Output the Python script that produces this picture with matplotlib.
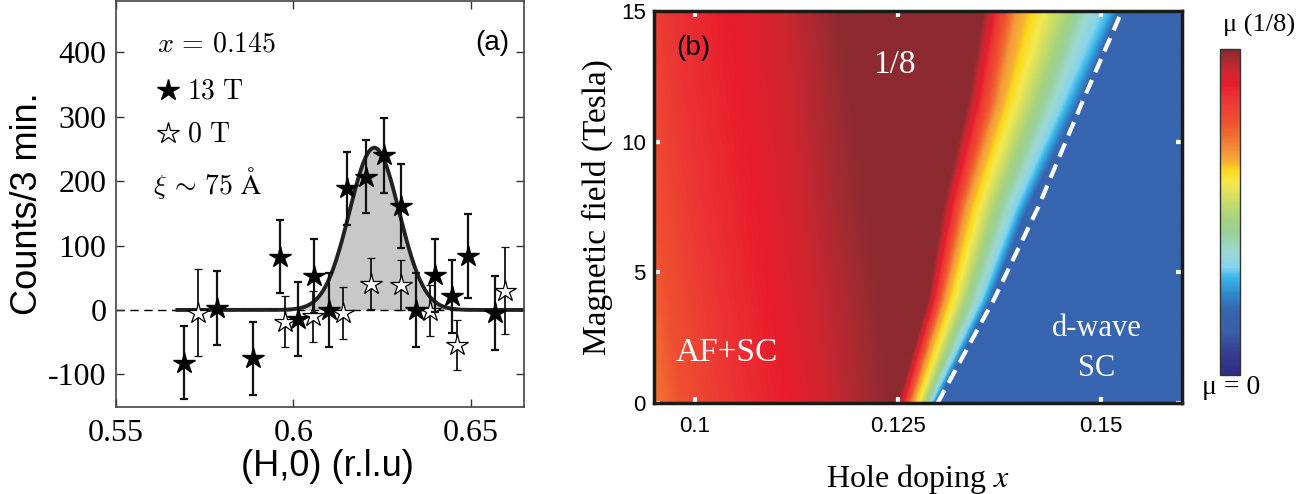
import numpy as np
import matplotlib
matplotlib.use("Agg")
import matplotlib.pyplot as plt
from matplotlib.colors import LinearSegmentedColormap

plt.rcParams['mathtext.fontset'] = 'cm'
plt.rcParams['axes.unicode_minus'] = False

SERIF = 'Liberation Serif'
SANS = 'Liberation Sans'

# ---- panel (a): neutron counts vs (H,0)
h_13T = [0.5693, 0.5786, 0.5885, 0.5963, 0.6013, 0.6057, 0.6100, 0.6152,
         0.6205, 0.6255, 0.6302, 0.6345, 0.6400, 0.6448, 0.6493, 0.6568]
counts_13T = [-82, 3, -75, 83, -14, 53, 0, 189, 207, 240, 162, 0, 54, 21, 84, -5]
err_13T = [57, 57, 57, 56, 57, 57, 57, 57, 57, 58, 65, 57, 57, 57, 65, 57]

h_0T = [0.5731, 0.5975, 0.6055, 0.6139, 0.6220, 0.6302, 0.6384, 0.6462, 0.6597]
counts_0T = [-4, -18, -10, -5, 41, 39, -1, -54, 30]
err_0T = [67, 39, 40, 40, 39, 39, 40, 39, 68]

# gaussian fit parameters (amplitude, centre, sigma) and range of fit line
fit_amp = 252
fit_center = 0.6228
fit_sigma = 0.0070
fit_range = (0.5673, 0.665)

# ---- panel (b): phase diagram, mu(x, H) read as iso-level positions
field_rows = [0, 4, 7.5, 11.5, 15]
mu_levels = [0.72, 0.78, 0.85, 0.89, 0.93, 0.97, 1.0,
             1.0, 0.86, 0.68, 0.59, 0.48, 0.38, 0.30, 0.20]
x_levels = [
    [0.0950, 0.0985, 0.1047, 0.1118, 0.1163, 0.1208, 0.1241,
     0.1250, 0.1258, 0.1268, 0.1276, 0.1284, 0.1289, 0.1293, 0.1298],
    [0.0935, 0.0965, 0.1025, 0.1095, 0.1145, 0.1195, 0.1228,
     0.1287, 0.1296, 0.1308, 0.1321, 0.1334, 0.1347, 0.1357, 0.1365],
    [0.0920, 0.0950, 0.1006, 0.1080, 0.1130, 0.1176, 0.1213,
     0.1305, 0.1318, 0.1334, 0.1351, 0.1369, 0.1386, 0.1400, 0.1410],
    [0.0900, 0.0935, 0.0985, 0.1060, 0.1118, 0.1163, 0.1195,
     0.1335, 0.1351, 0.1373, 0.1395, 0.1419, 0.1441, 0.1459, 0.1473],
    [0.0880, 0.0920, 0.0970, 0.1045, 0.1109, 0.1151, 0.1176,
     0.1355, 0.1371, 0.1396, 0.1429, 0.1460, 0.1483, 0.1510, 0.1522],
]
sc_edge_x = [0.1299, 0.1369, 0.1423, 0.1477, 0.1526]
sc_edge_H = [0, 4, 7.5, 11.5, 15]

cmap_stops = [
    (0.00, '#2e2d84'), (0.07, '#363f94'), (0.13, '#3a5ea9'), (0.20, '#3765b0'),
    (0.25, '#2f8ccf'), (0.30, '#3ab8ea'), (0.33, '#86d4ed'), (0.38, '#9dd8cf'),
    (0.43, '#99d19c'), (0.48, '#a6d27f'), (0.53, '#c8db68'), (0.59, '#f3e94e'),
    (0.63, '#fcd81a'), (0.65, '#f7b42f'), (0.68, '#f39a3a'), (0.73, '#f07030'),
    (0.78, '#ef5030'), (0.85, '#ec3535'), (0.89, '#e81c2b'), (0.93, '#d02630'),
    (0.97, '#a82a30'), (1.00, '#8c2a30'),
]
mu_cmap = LinearSegmentedColormap.from_list('mu', cmap_stops)


fig = plt.figure(figsize=(12.99, 4.94), dpi=100)

# ================= panel (a)
ax = fig.add_axes([0.0893, 0.1771, 0.3141, 0.8209])
hx = np.linspace(fit_range[0], fit_range[1], 400)
fit = fit_amp * np.exp(-(hx - fit_center) ** 2 / (2 * fit_sigma ** 2))
ax.fill_between(hx, 0, fit, color='#c8c8c8', lw=0, zorder=1)
ax.axhline(0, color='k', lw=1, ls=(0, (6, 4)), zorder=1)
ax.plot(hx, fit, color='#222222', lw=2.8, zorder=2)

ax.errorbar(h_0T, counts_0T, yerr=err_0T, fmt='*', ms=16, mfc='white',
            mec='k', mew=0.9, ecolor='#111111', elinewidth=1.3, capsize=3,
            capthick=1.3, zorder=3)
ax.errorbar(h_13T, counts_13T, yerr=err_13T, fmt='*', ms=16, mfc='k',
            mec='k', ecolor='#111111', elinewidth=1.6, capsize=3,
            capthick=1.6, zorder=4)

ax.set_xlim(0.55, 0.665)
ax.set_ylim(-150, 480)
ax.set_xticks([0.55, 0.6, 0.65])
ax.set_xticklabels(['0.55', '0.6', '0.65'])
ax.set_yticks([-100, 0, 100, 200, 300, 400])
ax.tick_params(direction='in', length=6, width=1, color='#333333',
               top=True, right=True, labelsize=23, pad=7)
ax.tick_params(axis='x', pad=9)
for lab in ax.get_xticklabels() + ax.get_yticklabels():
    lab.set_fontfamily(SERIF)
for sp in ax.spines.values():
    sp.set_color('#444444')
    sp.set_linewidth(1.2)

ax.set_ylabel('Counts/3 min.', fontsize=26, family=SANS)
ax.yaxis.set_label_coords(-0.216, 0.5)
ax.yaxis.label.set_va('center')
ax.set_xlabel('(H,0) (r.l.u)', fontsize=26, family=SANS)
ax.xaxis.set_label_coords(0.517, -0.149)
ax.xaxis.label.set_va('center')

ax.text(0.1005, 0.896, r'$x\, =\, 0.145$', transform=ax.transAxes, fontsize=20,
        ha='left', va='center')
ax.plot([0.127], [0.780], marker='*', ms=16, color='k', transform=ax.transAxes,
        clip_on=False)
ax.text(0.174, 0.780, r'$13\ \mathrm{T}$', transform=ax.transAxes, fontsize=20,
        ha='left', va='center')
ax.plot([0.127], [0.674], marker='*', ms=16, mfc='white', mec='k', mew=0.9,
        transform=ax.transAxes, clip_on=False)
ax.text(0.174, 0.674, r'$0\ \mathrm{T}$', transform=ax.transAxes, fontsize=20,
        ha='left', va='center')
ax.text(0.0907, 0.551, r'$\xi\, \sim\, 75\ \mathrm{\AA}$', transform=ax.transAxes,
        fontsize=20, ha='left', va='center')
ax.text(0.922, 0.896, '(a)', transform=ax.transAxes, fontsize=20,
        family=SANS, ha='center', va='center')

# ================= panel (b)
bx = fig.add_axes([0.5035, 0.1842, 0.4065, 0.7935])
xg = np.linspace(0.095, 0.16, 700)
Hg = np.linspace(0, 15, 300)
x_levels = np.array(x_levels)
mu = np.zeros((Hg.size, xg.size))
for i, H in enumerate(Hg):
    knots = [np.interp(H, field_rows, x_levels[:, k]) for k in range(len(mu_levels))]
    mu[i] = np.interp(xg, knots, mu_levels)
im = bx.imshow(mu, origin='lower', extent=(0.095, 0.16, 0, 15), aspect='auto',
               cmap=mu_cmap, vmin=0, vmax=1, interpolation='bilinear')
bx.plot(sc_edge_x, sc_edge_H, color='white', lw=3, ls=(0, (3.5, 2)),
        solid_capstyle='butt', dash_capstyle='butt')

bx.set_xlim(0.095, 0.16)
bx.set_ylim(0, 15)
bx.set_xticks([0.1, 0.125, 0.15])
bx.set_xticklabels(['0.1', '0.125', '0.15'])
bx.set_yticks([0, 5, 10, 15])
bx.tick_params(direction='in', length=4, width=3, color='white',
               top=True, right=True, labelsize=16, pad=9)
for lab in bx.get_xticklabels() + bx.get_yticklabels():
    lab.set_fontfamily(SANS)
bx.tick_params(axis='y', pad=6)
for sp in bx.spines.values():
    sp.set_color('#1a1a1a')
    sp.set_linewidth(2.5)

bx.set_ylabel('Magnetic field (Tesla)', fontsize=24, family=SERIF)
bx.yaxis.set_label_coords(-0.108, 0.5)
bx.yaxis.label.set_va('center')
bx.set_xlabel(r'Hole doping $\mathit{x}$', fontsize=23, family=SERIF)
bx.xaxis.label.set_math_fontfamily('stix')
bx.xaxis.set_label_coords(0.5, -0.194)
bx.xaxis.label.set_va('center')

bx.text(0.074, 0.906, '(b)', transform=bx.transAxes, fontsize=20,
        family=SANS, ha='center', va='center')
bx.text(0.456, 0.862, '1/8', transform=bx.transAxes, fontsize=24,
        family=SERIF, color='white', ha='center', va='center')
bx.text(0.138, 0.128, 'AF+SC', transform=bx.transAxes, fontsize=24,
        family=SERIF, color='white', ha='center', va='center')
bx.text(0.839, 0.191, 'd-wave', transform=bx.transAxes, fontsize=22,
        family=SERIF, color='white', ha='center', va='center')
bx.text(0.839, 0.089, 'SC', transform=bx.transAxes, fontsize=22,
        family=SERIF, color='white', ha='center', va='center')

# ================= colour bar
cax = fig.add_axes([0.9392, 0.2409, 0.0154, 0.66])
cb = fig.colorbar(im, cax=cax)
cb.set_ticks([])
cb.outline.set_linewidth(1)
cb.outline.set_edgecolor('#333333')
fig.text(1259 / 1299, 1 - 25 / 494, '\u03bc (1/8)', fontsize=19, family=SERIF,
         ha='center', va='center')
fig.text(1231 / 1299, 1 - 388 / 494, '\u03bc = 0', fontsize=20, family=SERIF,
         ha='center', va='center')

fig.savefig('out.png', dpi=100)
